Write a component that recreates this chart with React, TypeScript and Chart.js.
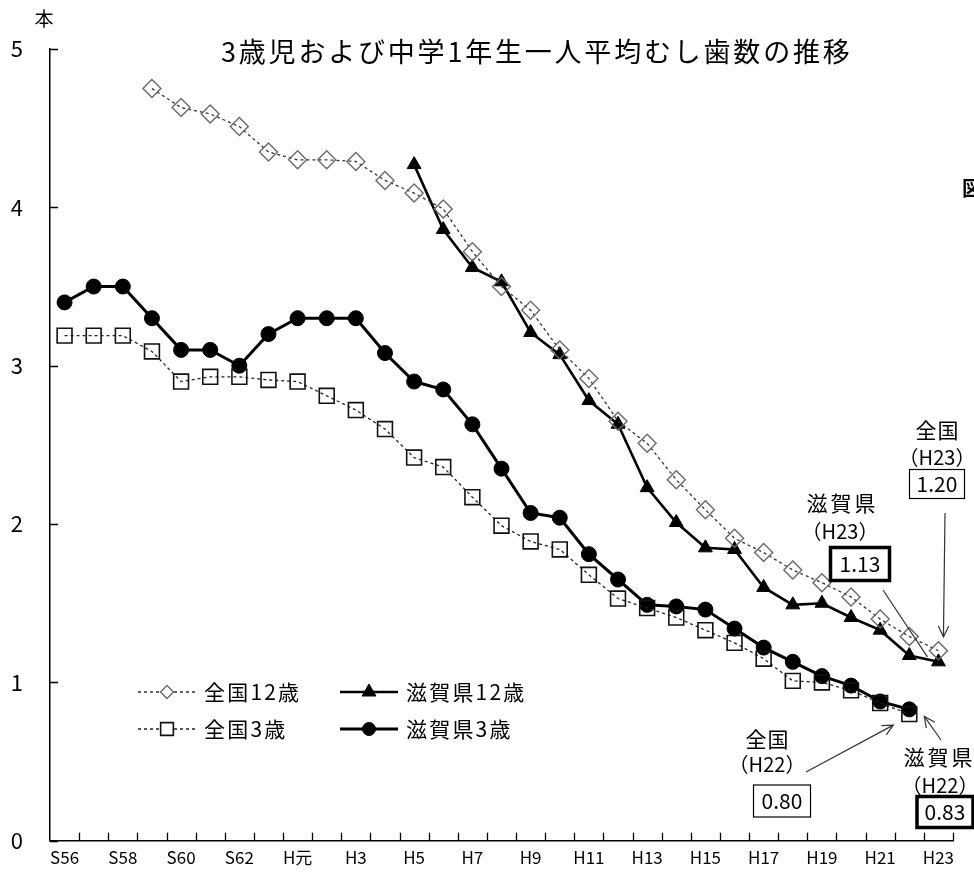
import React, { useEffect, useRef } from 'react';
import { Chart, registerables } from 'chart.js';

Chart.register(...registerables);

const FONT = '"Noto Sans CJK JP", "Noto Sans", sans-serif';

const years = [
  'S56', 'S57', 'S58', 'S59', 'S60', 'S61', 'S62', 'S63', 'H元', 'H2',
  'H3', 'H4', 'H5', 'H6', 'H7', 'H8', 'H9', 'H10', 'H11', 'H12',
  'H13', 'H14', 'H15', 'H16', 'H17', 'H18', 'H19', 'H20', 'H21', 'H22', 'H23',
];

const shownTicks = [
  'S56', 'S58', 'S60', 'S62', 'H元', 'H3', 'H5', 'H7', 'H9', 'H11',
  'H13', 'H15', 'H17', 'H19', 'H21', 'H23',
];

const yTicks = [0, 1, 2, 3, 4, 5];

const seriesNames = ['全国12歳', '滋賀県12歳', '全国3歳', '滋賀県3歳'];

const national12 = [
  null, null, null, 4.75, 4.63, 4.59, 4.51, 4.35, 4.30, 4.30,
  4.29, 4.17, 4.09, 3.99, 3.72, 3.50, 3.35, 3.10, 2.92, 2.65,
  2.51, 2.28, 2.09, 1.91, 1.82, 1.71, 1.63, 1.54, 1.40, 1.29, 1.20,
];

const shiga12 = [
  null, null, null, null, null, null, null, null, null, null,
  null, null, 4.27, 3.86, 3.62, 3.53, 3.21, 3.07, 2.78, 2.63,
  2.23, 2.01, 1.85, 1.84, 1.60, 1.49, 1.50, 1.41, 1.33, 1.17, 1.13,
];

const national3 = [
  3.19, 3.19, 3.19, 3.09, 2.90, 2.93, 2.93, 2.91, 2.90, 2.81,
  2.72, 2.60, 2.42, 2.36, 2.17, 1.99, 1.89, 1.84, 1.68, 1.53,
  1.47, 1.41, 1.33, 1.25, 1.15, 1.01, 1.00, 0.95, 0.87, 0.80, null,
];

const shiga3 = [
  3.40, 3.50, 3.50, 3.30, 3.10, 3.10, 3.00, 3.20, 3.30, 3.30,
  3.30, 3.08, 2.90, 2.85, 2.63, 2.35, 2.07, 2.04, 1.81, 1.65,
  1.49, 1.48, 1.46, 1.34, 1.22, 1.13, 1.04, 0.98, 0.88, 0.83, null,
];

const titleText = '3歳児および中学1年生一人平均むし歯数の推移';
const unitText = '本';

function drawText(
  ctx: CanvasRenderingContext2D,
  s: string,
  x: number,
  y: number,
  size: number,
  align: 'left' | 'center' | 'right' = 'center',
  spacing = 0,
  weight = 'normal',
) {
  ctx.save();
  ctx.font = `${weight} ${size}px ${FONT}`;
  (ctx as any).letterSpacing = '0px';
  const w0 = ctx.measureText(s).width;
  const n = Array.from(s).length;
  const w = w0 + spacing * (n - 1);
  let left = x;
  if (align === 'center') left = x - w / 2;
  else if (align === 'right') left = x - w;
  (ctx as any).letterSpacing = spacing + 'px';
  ctx.textAlign = 'left';
  ctx.textBaseline = 'middle';
  ctx.fillStyle = '#000';
  ctx.fillText(s, left, y);
  ctx.restore();
}

function drawBox(ctx: CanvasRenderingContext2D, s: string, cx: number, cy: number, w: number, h: number, lw: number) {
  ctx.save();
  ctx.fillStyle = '#fff';
  ctx.fillRect(cx - w / 2, cy - h / 2, w, h);
  ctx.strokeStyle = '#000';
  ctx.lineWidth = lw;
  ctx.strokeRect(cx - w / 2, cy - h / 2, w, h);
  ctx.restore();
  drawText(ctx, s, cx, cy, 21, 'center', 0);
}

function drawArrow(ctx: CanvasRenderingContext2D, x1: number, y1: number, x2: number, y2: number, head: boolean) {
  ctx.save();
  ctx.strokeStyle = '#333';
  ctx.lineWidth = 1.2;
  ctx.beginPath();
  ctx.moveTo(x1, y1);
  ctx.lineTo(x2, y2);
  ctx.stroke();
  if (head) {
    const a = Math.atan2(y2 - y1, x2 - x1);
    const L = 12;
    const spread = 0.45;
    ctx.beginPath();
    ctx.moveTo(x2 - L * Math.cos(a - spread), y2 - L * Math.sin(a - spread));
    ctx.lineTo(x2, y2);
    ctx.lineTo(x2 - L * Math.cos(a + spread), y2 - L * Math.sin(a + spread));
    ctx.stroke();
  }
  ctx.restore();
}

function drawMarker(ctx: CanvasRenderingContext2D, style: string, x: number, y: number, r: number, fill: string, stroke: string, lw: number) {
  ctx.save();
  ctx.beginPath();
  if (style === 'rectRot') {
    ctx.moveTo(x, y - r);
    ctx.lineTo(x + r, y);
    ctx.lineTo(x, y + r);
    ctx.lineTo(x - r, y);
    ctx.closePath();
  } else if (style === 'rect') {
    const s = r * Math.SQRT1_2;
    ctx.rect(x - s, y - s, 2 * s, 2 * s);
  } else if (style === 'triangle') {
    for (let k = 0; k < 3; k++) {
      const ang = (k * 2 * Math.PI) / 3;
      const px = x + Math.sin(ang) * r;
      const py = y - Math.cos(ang) * r;
      if (k === 0) ctx.moveTo(px, py);
      else ctx.lineTo(px, py);
    }
    ctx.closePath();
  } else {
    ctx.arc(x, y, r, 0, Math.PI * 2);
  }
  ctx.fillStyle = fill;
  ctx.fill();
  ctx.strokeStyle = stroke;
  ctx.lineWidth = lw;
  ctx.stroke();
  ctx.restore();
}

const decorPlugin = {
  id: 'decor',
  afterDraw(chart: any) {
    const ctx: CanvasRenderingContext2D = chart.ctx;
    const xs = chart.scales.x;
    const ys = chart.scales.y;
    const area = chart.chartArea;

    // inward tick marks
    ctx.save();
    ctx.strokeStyle = '#000';
    ctx.lineWidth = 1.3;
    ctx.beginPath();
    for (let k = 1; k <= years.length; k++) {
      const x = Math.round(xs.getPixelForValue(k - 0.5)) + 0.5;
      ctx.moveTo(x, area.bottom);
      ctx.lineTo(x, area.bottom - 8);
    }
    yTicks.forEach((v) => {
      const y = Math.round(ys.getPixelForValue(v)) + 0.5;
      ctx.moveTo(area.left, y);
      ctx.lineTo(area.left + 8, y);
    });
    ctx.stroke();
    ctx.restore();

    // unit, title, side mark
    drawText(ctx, unitText, 44, 19, 19, 'center');
    drawText(ctx, titleText, 221, 52, 27, 'left', 2.8);
    drawText(ctx, '図', 962, 188, 20, 'left', 0, 'bold');

    // legend
    const ds = chart.data.datasets;
    const legendPos = [
      { x: 138, y: 692 },
      { x: 340, y: 692 },
      { x: 138, y: 729 },
      { x: 340, y: 729 },
    ];
    const legendMarkerR = [6.5, 8, 9, 6.5];
    ds.forEach((d: any, i: number) => {
      const p = legendPos[i];
      ctx.save();
      ctx.strokeStyle = d.borderColor;
      ctx.lineWidth = d.borderWidth;
      ctx.setLineDash(d.borderDash || []);
      ctx.beginPath();
      ctx.moveTo(p.x, p.y);
      ctx.lineTo(p.x + 58, p.y);
      ctx.stroke();
      ctx.restore();
      drawMarker(
        ctx,
        d.pointStyle,
        p.x + 29,
        p.y,
        legendMarkerR[i],
        d.pointBackgroundColor === 'rgba(0,0,0,0)' ? '#fff' : d.pointBackgroundColor,
        d.pointBorderColor,
        d.pointBorderWidth,
      );
      drawText(ctx, d.label, p.x + 66, p.y, 21, 'left', 2.2);
    });

    // callouts
    const last = years.length - 1;
    const prev = years.length - 2;
    const pt = (i: number, v: number) => ({ x: xs.getPixelForValue(i), y: ys.getPixelForValue(v) });

    const pN12 = pt(last, national12[last] as number);
    drawText(ctx, '全国', 937, 430, 21, 'center', 1);
    drawText(ctx, '（H23）', 937, 457, 20, 'center');
    drawBox(ctx, (national12[last] as number).toFixed(2), 937, 484, 55, 29, 1.2);
    drawArrow(ctx, 945, 513, pN12.x + 5, pN12.y - 14, true);

    const pS12 = pt(last, shiga12[last] as number);
    drawText(ctx, '滋賀県', 841, 503, 21, 'center', 3);
    drawText(ctx, '（H23）', 840, 531, 20, 'center');
    drawBox(ctx, (shiga12[last] as number).toFixed(2), 860, 564, 59, 33, 3.5);
    drawArrow(ctx, 883, 590, pS12.x - 11, pS12.y - 5, false);

    const pN3 = pt(prev, national3[prev] as number);
    drawText(ctx, '全国', 767, 739, 21, 'center', 1);
    drawText(ctx, '（H22）', 767, 764, 20, 'center');
    drawBox(ctx, (national3[prev] as number).toFixed(2), 782, 801, 57, 32, 1.2);
    drawArrow(ctx, 806, 772, pN3.x - 16, pN3.y + 11, true);

    const pS3 = pt(prev, shiga3[prev] as number);
    drawText(ctx, '滋賀県', 938, 757, 21, 'center', 3);
    drawText(ctx, '（H22）', 940, 785, 20, 'center');
    drawBox(ctx, (shiga3[prev] as number).toFixed(2), 945, 812, 56, 31, 3.5);
    drawArrow(ctx, 941, 740, pS3.x + 15, pS3.y + 7, true);
  },
};

export default function App() {
  const ref = useRef<HTMLCanvasElement | null>(null);

  useEffect(() => {
    document.body.style.margin = '0';
    const canvas = ref.current;
    if (!canvas) return;

    const chart = new Chart(canvas, {
      type: 'line',
      data: {
        labels: years,
        datasets: [
          {
            label: seriesNames[0],
            data: national12,
            borderColor: '#333',
            borderWidth: 1.3,
            borderDash: [3, 3],
            pointStyle: 'rectRot',
            pointRadius: 9,
            pointBorderColor: '#6a6a6a',
            pointBorderWidth: 1.4,
            pointBackgroundColor: 'rgba(0,0,0,0)',
          },
          {
            label: seriesNames[1],
            data: shiga12,
            borderColor: '#000',
            borderWidth: 2.6,
            pointStyle: 'triangle',
            pointRadius: 8,
            pointBorderColor: '#000',
            pointBorderWidth: 1,
            pointBackgroundColor: '#000',
          },
          {
            label: seriesNames[2],
            data: national3,
            borderColor: '#222',
            borderWidth: 1.3,
            borderDash: [3, 3],
            pointStyle: 'rect',
            pointRadius: 10.5,
            pointBorderColor: '#111',
            pointBorderWidth: 1.6,
            pointBackgroundColor: 'rgba(0,0,0,0)',
          },
          {
            label: seriesNames[3],
            data: shiga3,
            borderColor: '#000',
            borderWidth: 3,
            pointStyle: 'circle',
            pointRadius: 7.5,
            pointBorderColor: '#000',
            pointBorderWidth: 1,
            pointBackgroundColor: '#000',
          },
        ] as any,
      },
      options: {
        animation: false,
        responsive: false,
        devicePixelRatio: 1,
        layout: { padding: { top: 49, right: 21, left: 0, bottom: 0 } },
        plugins: {
          legend: { display: false },
          title: { display: false },
          tooltip: { enabled: false },
        },
        scales: {
          x: {
            type: 'category',
            offset: true,
            afterFit: (s: any) => { s.height = 31; },
            grid: { display: false, drawTicks: false },
            border: { display: true, color: '#000', width: 1.5 },
            ticks: {
              autoSkip: false,
              maxRotation: 0,
              minRotation: 0,
              padding: 7,
              color: '#000',
              font: { family: FONT, size: 17 },
              callback: (_v: any, i: number) => (shownTicks.includes(years[i]) ? years[i] : ''),
            },
          },
          y: {
            min: 0,
            max: 5,
            afterFit: (s: any) => { s.width = 50; },
            grid: { display: false, drawTicks: false },
            border: { display: true, color: '#000', width: 1.5 },
            ticks: {
              stepSize: 1,
              padding: 27,
              color: '#000',
              font: { family: FONT, size: 22 },
            },
          },
        },
      } as any,
      plugins: [decorPlugin],
    });

    return () => chart.destroy();
  }, []);

  return <canvas ref={ref} width={974} height={881} style={{ display: 'block' }} />;
}
